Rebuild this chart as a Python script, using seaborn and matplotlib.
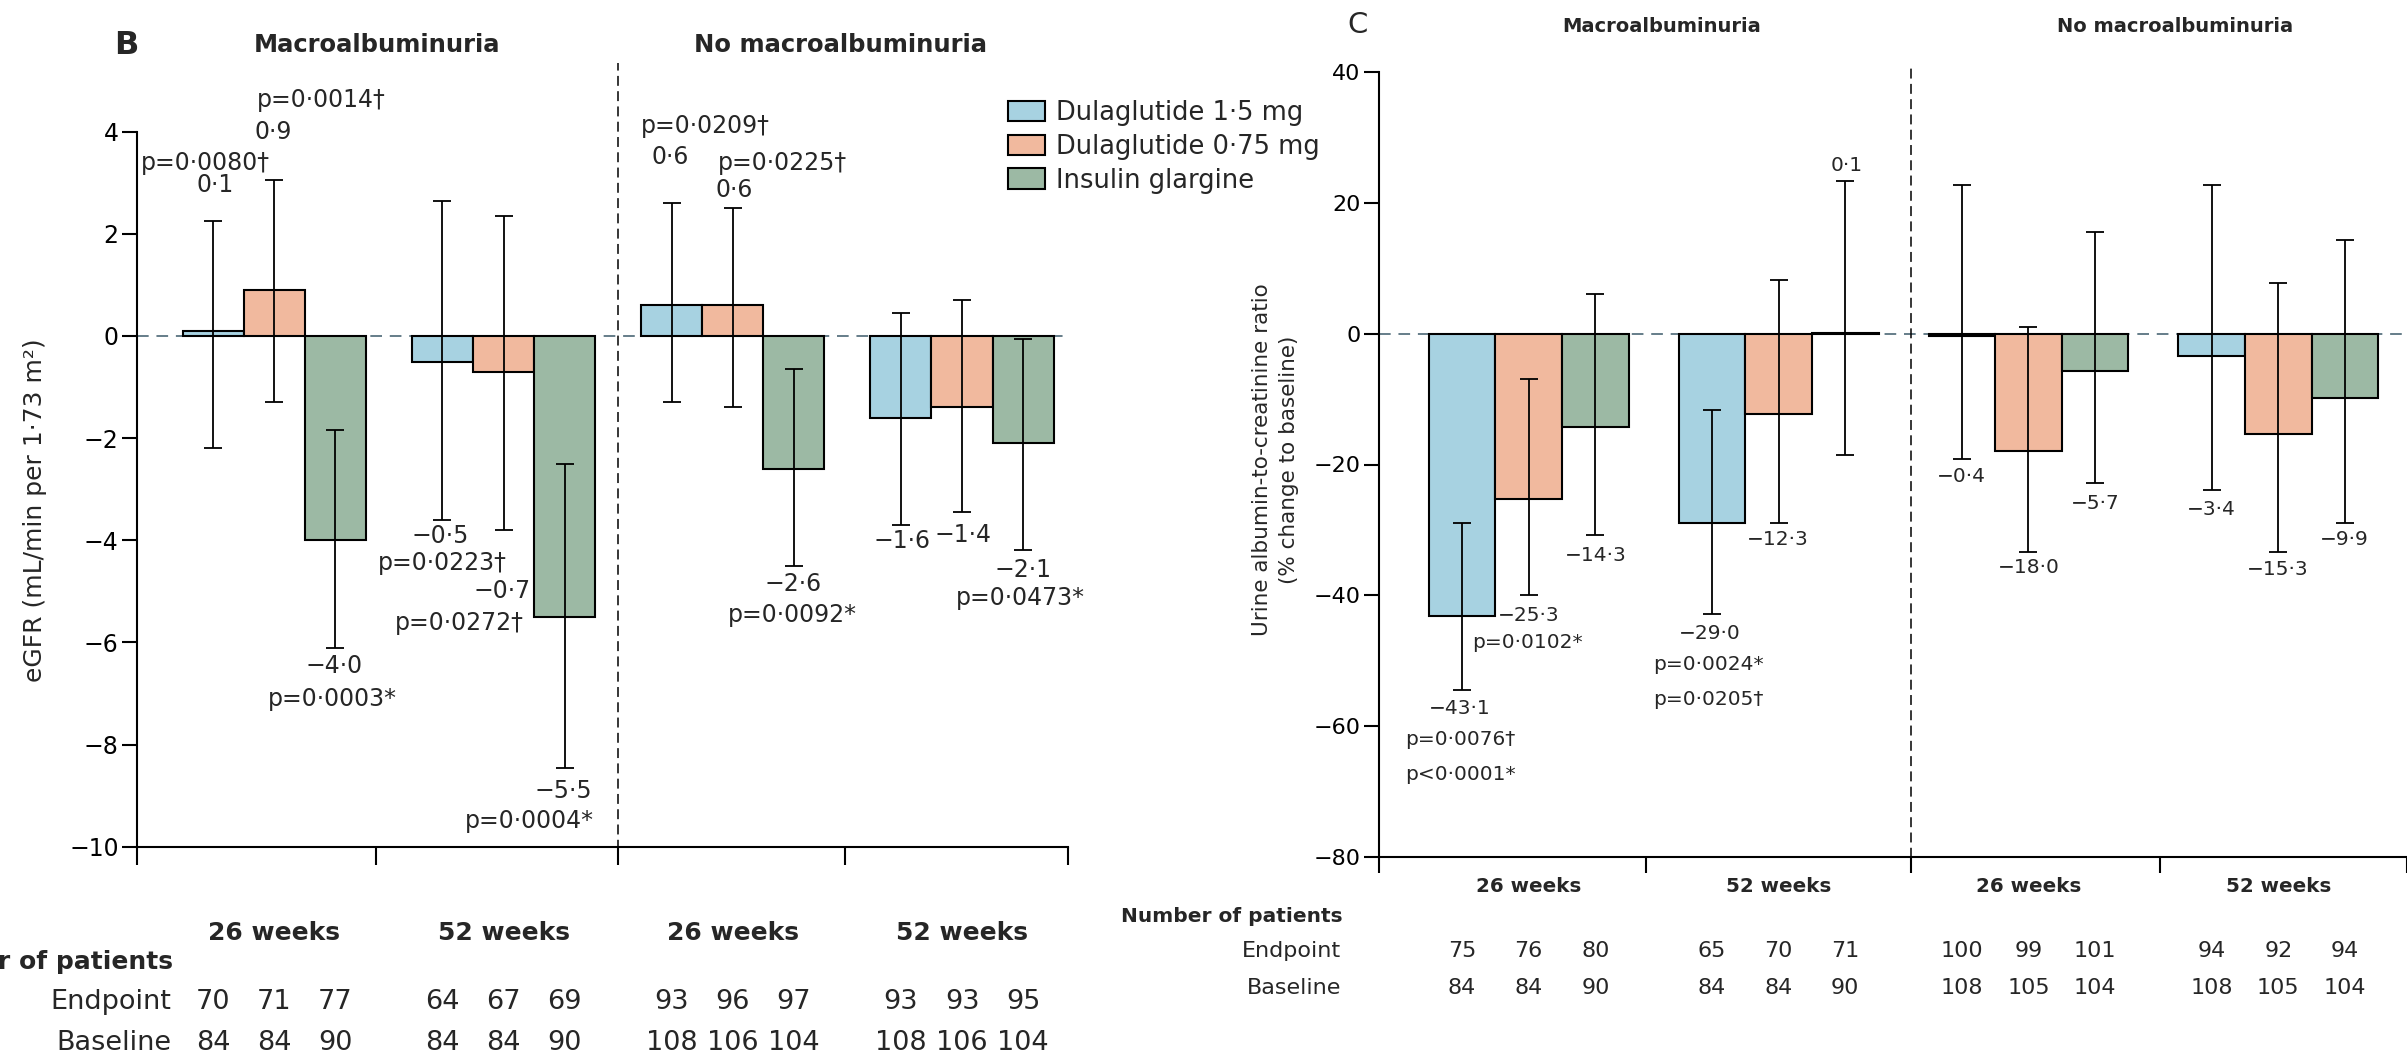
import numpy as np
import pandas as pd
import matplotlib
matplotlib.use("Agg")
import matplotlib.pyplot as plt
import seaborn as sns
from matplotlib.patches import Patch
from matplotlib import transforms

# ---------------- data ----------------
groups = ["Macro 26 weeks", "Macro 52 weeks", "No macro 26 weeks", "No macro 52 weeks"]
group_labels = ["26 weeks", "52 weeks", "26 weeks", "52 weeks"]
treatments = ["Dulaglutide 1·5 mg", "Dulaglutide 0·75 mg", "Insulin glargine"]
colors = ["#A7D2E1", "#F1B99E", "#9CB9A4"]

# Panel B: eGFR change
egfr_dula15 = [0.1, -0.5, 0.6, -1.6]
egfr_dula075 = [0.9, -0.7, 0.6, -1.4]
egfr_glargine = [-4.0, -5.5, -2.6, -2.1]
egfr_low_dula15 = [-2.2, -3.6, -1.3, -3.7]
egfr_low_dula075 = [-1.3, -3.8, -1.4, -3.45]
egfr_low_glargine = [-6.1, -8.45, -4.5, -4.2]
egfr_high_dula15 = [2.25, 2.65, 2.6, 0.45]
egfr_high_dula075 = [3.05, 2.35, 2.5, 0.7]
egfr_high_glargine = [-1.85, -2.5, -0.65, -0.05]
egfr_pvalues = {
    (0, 0): ["p=0·0080†"], (0, 1): ["p=0·0014†"], (0, 2): ["p=0·0003*"],
    (1, 0): ["p=0·0223†"], (1, 1): ["p=0·0272†"], (1, 2): ["p=0·0004*"],
    (2, 0): ["p=0·0209†"], (2, 1): ["p=0·0225†"], (2, 2): ["p=0·0092*"],
    (3, 2): ["p=0·0473*"],
}
egfr_endpoint = [[70, 71, 77], [64, 67, 69], [93, 96, 97], [93, 93, 95]]
egfr_baseline = [[84, 84, 90], [84, 84, 90], [108, 106, 104], [108, 106, 104]]
egfr_yticks = [-10, -8, -6, -4, -2, 0, 2, 4]

# Panel C: UACR % change
uacr_dula15 = [-43.1, -29.0, -0.4, -3.4]
uacr_dula075 = [-25.3, -12.3, -18.0, -15.3]
uacr_glargine = [-14.3, 0.1, -5.7, -9.9]
uacr_low_dula15 = [-54.4, -42.8, -19.2, -23.9]
uacr_low_dula075 = [-40.0, -28.9, -33.3, -33.4]
uacr_low_glargine = [-30.8, -18.6, -22.9, -29.0]
uacr_high_dula15 = [-28.9, -11.7, 22.7, 22.7]
uacr_high_dula075 = [-7.0, 8.2, 0.96, 7.8]
uacr_high_glargine = [6.0, 23.3, 15.5, 14.3]
uacr_pvalues = {
    (0, 0): ["p=0·0076†", "p<0·0001*"], (0, 1): ["p=0·0102*"],
    (1, 0): ["p=0·0024*", "p=0·0205†"],
}
uacr_endpoint = [[75, 76, 80], [65, 70, 71], [100, 99, 101], [94, 92, 94]]
uacr_baseline = [[84, 84, 90], [84, 84, 90], [108, 105, 104], [108, 105, 104]]
uacr_yticks = [-80, -60, -40, -20, 0, 20, 40]

# ---------------- layout ----------------
B_xlim = (-0.6, 3.46)
B_xticks = [-0.6, 0.444, 1.5, 2.49, 3.46]
B_divider = 1.5
C_xlim = (-0.6, 3.515)
C_xticks = [-0.6, 0.468, 1.53, 2.525, 3.515]
C_divider = 1.53

# label offsets in pixels from (bar centre, CI end)
B_value_off = {(0, 0): (2, 36), (0, 1): (-1, 48), (0, 2): (-1, -18), (1, 0): (-2, -16),
               (1, 1): (-1, -61), (1, 2): (-1, -23), (2, 0): (-1, 46), (2, 1): (1, 18),
               (2, 2): (-1, -18), (3, 0): (1, -16), (3, 1): (1, -23), (3, 2): (0, -20)}
B_p_off = {(0, 0): [(-8, 58, "center")], (0, 1): [(47, 80, "center")], (0, 2): [(-3, -51, "center")],
           (1, 0): [(0, -43, "center")], (1, 1): [(-44, -93, "center")], (1, 2): [(-35, -53, "center")],
           (2, 0): [(34, 77, "center")], (2, 1): [(50, 45, "center")], (2, 2): [(-2, -49, "center")],
           (3, 2): [(-3, -48, "center")]}
C_value_off = {(0, 0): (-2, -19), (0, 1): (0, -20.5), (0, 2): (0, -20), (1, 0): (-2, -20),
               (1, 1): (-1, -16.5), (1, 2): (1, 16), (2, 0): (0, -17.4), (2, 1): (0, -16.3),
               (2, 2): (0, -20), (3, 0): (0, -19), (3, 1): (-1, -17.3), (3, 2): (-1, -16)}
C_p_off = {(0, 0): [(-56.5, -49.5, "left"), (-56.5, -85, "left")], (0, 1): [(-1.5, -47, "center")],
           (1, 0): [(-58.6, -50.5, "left"), (-58.6, -86, "left")]}

W, H = 2407, 1060

sns.set_style("ticks")
plt.rcParams["font.family"] = ["DejaVu Sans"]
plt.rcParams["axes.unicode_minus"] = True

fig = plt.figure(figsize=(W / 100, H / 100), dpi=100)


def px_axes(l, r, top, bottom):
    return fig.add_axes([l / W, 1 - bottom / H, (r - l) / W, (bottom - top) / H])


axB = px_axes(136.7, 1067.5, 131.7, 846.7)
axC = px_axes(1378.8, 2407, 71.7, 857.3)


def fmt(v):
    return f"{v:.1f}".replace("-", "\u2212").replace(".", "\u00b7")


def build_df(vals):
    rows = []
    for t, vv in zip(treatments, vals):
        for g, v in zip(groups, vv):
            rows.append({"group": g, "treatment": t, "value": v})
    return pd.DataFrame(rows)


def draw_panel(ax, vals, lows, highs, ylim, yticks, xlim, xticks, divider,
               tick_fs, div_top, div_bot, xtick_len):
    df = build_df(vals)
    sns.barplot(data=df, x="group", y="value", hue="treatment", order=groups,
                hue_order=treatments, palette=colors, saturation=1, width=0.8,
                edgecolor="black", linewidth=1.5, errorbar=None, legend=False,
                ax=ax, zorder=2)
    centres = {}
    for cont in ax.containers:
        for bar in cont:
            fc = np.array(bar.get_facecolor()[:3])
            ti = int(np.argmin([np.sum((np.array(matplotlib.colors.to_rgb(c)) - fc) ** 2)
                                for c in colors]))
            xc = bar.get_x() + bar.get_width() / 2
            gi = int(round(xc))
            centres[(gi, ti)] = xc
    for (gi, ti), xc in centres.items():
        v, lo, hi = vals[ti][gi], lows[ti][gi], highs[ti][gi]
        ax.errorbar([xc], [v], yerr=[[v - lo], [hi - v]], fmt="none", ecolor="black",
                    elinewidth=1.3, capsize=6.5, capthick=1.3, zorder=3)
    ax.set_xlim(*xlim)
    ax.set_ylim(*ylim)
    ax.set_yticks(yticks)
    ax.set_xticks(xticks)
    ax.set_xticklabels([])
    ax.set_xlabel("")
    ax.set_ylabel("")
    for s in ["top", "right"]:
        ax.spines[s].set_visible(False)
    for s in ["left", "bottom"]:
        ax.spines[s].set_linewidth(1.5)
        ax.spines[s].set_color("black")
    ax.tick_params(axis="y", length=10.5, width=1.5, pad=2.5, labelsize=tick_fs, colors="black")
    ax.tick_params(axis="x", length=xtick_len, width=1.5, colors="black")
    ax.axhline(0, color="#657D89", lw=1.4, ls=(0, (6, 4)), zorder=1)
    ax.plot([divider, divider], [div_bot, div_top],
            transform=transforms.blended_transform_factory(ax.transData, ax.transAxes),
            color="black", lw=1.1, ls=(0, (6.5, 3.5)), clip_on=False, zorder=1)
    ax.set_facecolor("none")
    return centres


centB = draw_panel(axB, [egfr_dula15, egfr_dula075, egfr_glargine],
                   [egfr_low_dula15, egfr_low_dula075, egfr_low_glargine],
                   [egfr_high_dula15, egfr_high_dula075, egfr_high_glargine],
                   (-10, 4), egfr_yticks, B_xlim, B_xticks, B_divider, 17, 1.096, -0.026, 13)
centC = draw_panel(axC, [uacr_dula15, uacr_dula075, uacr_glargine],
                   [uacr_low_dula15, uacr_low_dula075, uacr_low_glargine],
                   [uacr_high_dula15, uacr_high_dula075, uacr_high_glargine],
                   (-80, 40), uacr_yticks, C_xlim, C_xticks, C_divider, 16, 1.005, -0.02, 11.5)


def annotate_panel(ax, centres, vals, lows, highs, pvals, voff, poff, fs):
    for (gi, ti), xc in centres.items():
        v = vals[ti][gi]
        anchor = highs[ti][gi] if v > 0 else lows[ti][gi]
        dx, dy = voff[(gi, ti)]
        ax.annotate(fmt(v), xy=(xc, anchor), xytext=(dx, dy), textcoords="offset pixels",
                    ha="center", va="center", fontsize=fs, annotation_clip=False, zorder=5)
        for txt, (pdx, pdy, ha) in zip(pvals.get((gi, ti), []), poff.get((gi, ti), [])):
            ax.annotate(txt, xy=(xc, anchor), xytext=(pdx, pdy), textcoords="offset pixels",
                        ha=ha, va="center", fontsize=fs, annotation_clip=False, zorder=5)


annotate_panel(axB, centB, [egfr_dula15, egfr_dula075, egfr_glargine],
               [egfr_low_dula15, egfr_low_dula075, egfr_low_glargine],
               [egfr_high_dula15, egfr_high_dula075, egfr_high_glargine],
               egfr_pvalues, B_value_off, B_p_off, 17)
annotate_panel(axC, centC, [uacr_dula15, uacr_dula075, uacr_glargine],
               [uacr_low_dula15, uacr_low_dula075, uacr_low_glargine],
               [uacr_high_dula15, uacr_high_dula075, uacr_high_glargine],
               uacr_pvalues, C_value_off, C_p_off, 14.5)


def ftext(x, y, s, **kw):
    fig.text(x / W, 1 - y / H, s, **kw)


# panel letters and titles
ftext(126.5, 45, "B", fontsize=23, fontweight="bold", ha="center", va="center")
ftext(377, 45, "Macroalbuminuria", fontsize=17.5, fontweight="bold", ha="center", va="center")
ftext(841, 45, "No macroalbuminuria", fontsize=17.5, fontweight="bold", ha="center", va="center")
ftext(1358, 25, "C", fontsize=21, ha="center", va="center")
ftext(1662, 27, "Macroalbuminuria", fontsize=14, fontweight="bold", ha="center", va="center")
ftext(2175, 27, "No macroalbuminuria", fontsize=14, fontweight="bold", ha="center", va="center")

# y labels
ftext(35.5, 510, "eGFR (mL/min per 1·73 m²)", fontsize=18, rotation=90, ha="center", va="center")
ftext(1275.5, 460, "Urine albumin-to-creatinine ratio\n(% change to baseline)", fontsize=15.5,
      rotation=90, ha="center", va="center", multialignment="center", linespacing=1.38)


# number-of-patients tables
def table(ax, centres, endpoint, baseline, y_head, y_np, y_end, y_base, x_lab,
          fs_head, fs_num, fs_np):
    tr = transforms.blended_transform_factory(ax.transData, fig.transFigure)
    for gi, lab in enumerate(group_labels):
        ax.text(gi, 1 - y_head / H, lab, transform=tr, ha="center", va="center",
                fontsize=fs_head, fontweight="bold", clip_on=False)
        for ti in range(3):
            xc = centres[(gi, ti)]
            ax.text(xc, 1 - y_end / H, str(endpoint[gi][ti]), transform=tr, ha="center",
                    va="center", fontsize=fs_num, clip_on=False)
            ax.text(xc, 1 - y_base / H, str(baseline[gi][ti]), transform=tr, ha="center",
                    va="center", fontsize=fs_num, clip_on=False)
    ftext(x_lab + 2, y_np, "Number of patients", fontsize=fs_np, fontweight="bold",
          ha="right", va="center")
    ftext(x_lab, y_end, "Endpoint", fontsize=fs_num, ha="right", va="center")
    ftext(x_lab, y_base, "Baseline", fontsize=fs_num, ha="right", va="center")


table(axB, centB, egfr_endpoint, egfr_baseline, 933, 961.5, 1002, 1043, 171.5, 18, 19.5, 18)
table(axC, centC, uacr_endpoint, uacr_baseline, 886.7, 916.7, 950.7, 987.5, 1341, 14.3, 16, 14.5)

# legend
handles = [Patch(facecolor=c, edgecolor="black", linewidth=1.5) for c in colors]
fig.legend(handles, treatments, loc="upper left", bbox_to_anchor=(1003 / W, 1 - 95 / H),
           frameon=True, facecolor="white", edgecolor="none", framealpha=1, fontsize=18.5,
           handlelength=1.45, handleheight=0.85, handletextpad=0.4, labelspacing=0.3,
           borderpad=0.2, borderaxespad=0)

fig.savefig("out.png", dpi=100)
